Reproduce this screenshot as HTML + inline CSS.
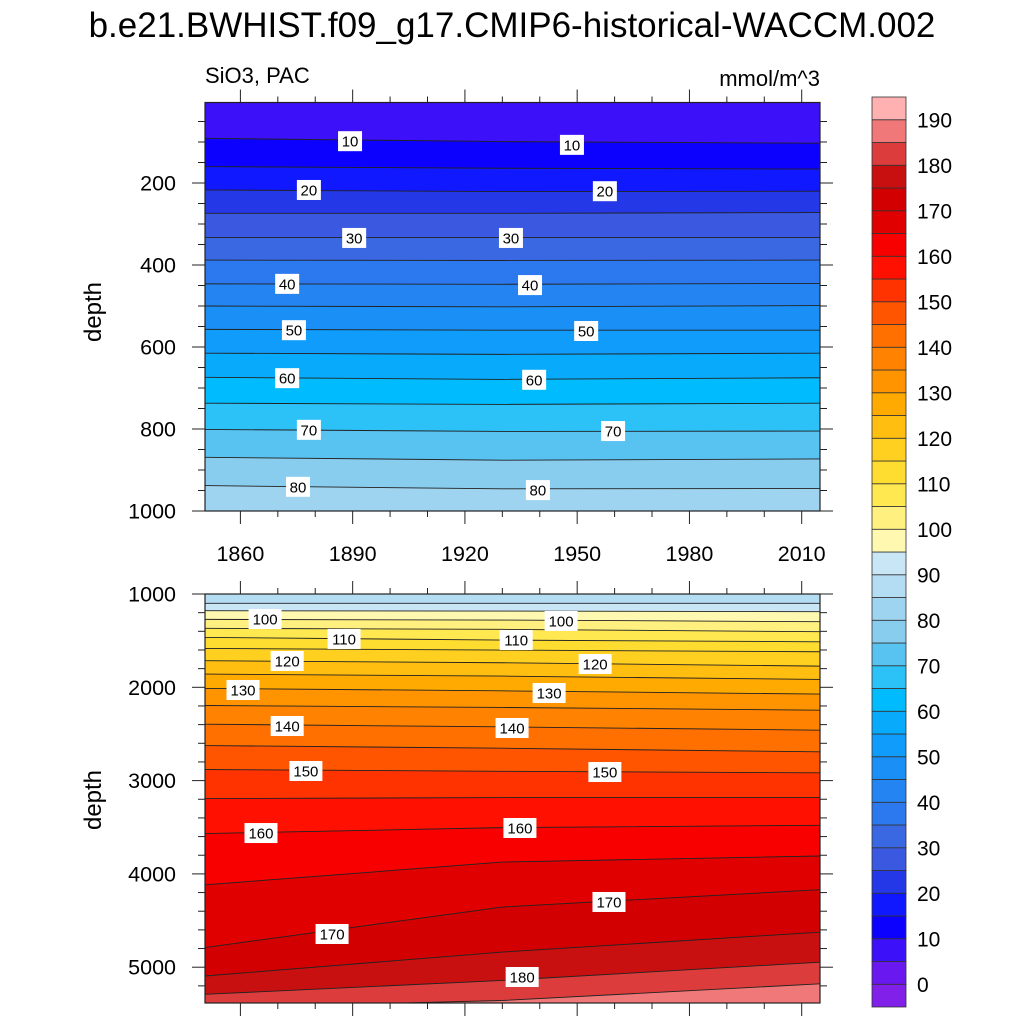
<!DOCTYPE html>
<html><head><meta charset="utf-8"><style>
html,body{margin:0;padding:0;background:#fff;width:1024px;height:1024px;overflow:hidden;}
svg{display:block;font-family:"Liberation Sans",sans-serif;}
</style></head><body>
<svg id="c" width="1024" height="1024" viewBox="0 0 1024 1024">
<text x="512" y="37" font-size="35" text-anchor="middle">b.e21.BWHIST.f09_g17.CMIP6-historical-WACCM.002</text>
<text x="205" y="83" font-size="22">SiO3, PAC</text>
<text x="820" y="86" font-size="22" text-anchor="end">mmol/m^3</text>
<text transform="translate(101,312) rotate(-90)" font-size="24" text-anchor="middle">depth</text>
<text transform="translate(101,800) rotate(-90)" font-size="24" text-anchor="middle">depth</text>
<g id="top"></g>
<g id="bot"></g>
<g id="cbar"></g>
</svg>
<script>
const years = [1850, 1930, 2015];
const topLevels = [10,15,20,25,30,35,40,45,50,55,60,65,70,75,80];
const topDepths = [
 [91,99,103],[160,164,166],[217,221,220],[274,274,272],[333,333,333],
 [388,389,388],[446,447,445],[500,502,499],[557,559,559],[615,618,615],
 [674,679,675],[737,740,737],[801,806,805],[869,876,873],[938,946,945]];
const botLevels = [90,95,100,105,110,115,120,125,130,135,140,145,150,155,160,165,170,175,180,185];
const botDepths = [
 [1100,1100,1100],[1179,1183,1190],[1272,1279,1297],[1368,1379,1404],[1465,1494,1512],
 [1583,1601,1619],[1715,1737,1773],[1858,1880,1916],[2012,2038,2073],[2195,2216,2245],
 [2395,2424,2460],[2624,2653,2692],[2881,2900,2917],[3193,3182,3182],[3568,3504,3479],
 [4119,3873,3808],[4792,4355,4169],[5096,4838,4624],[5292,5142,4946],[5600,5357,5178]];
const topLabelText = ["10","10","20","20","30","30","40","40","50","50","60","60","70","70","80","80"];
const topLabelYear = [1889.3,1948.6,1878.3,1957.4,1890.4,1932.3,1872.5,1937.4,1874.3,1952.4,1872.5,1938.5,1878.3,1959.6,1875.4,1939.5];
const topLabelDepth = [98,107,217,220,334,334,446,449,559,561,676,680,802,805,941,949];
const botLabelText = ["100","100","110","110","120","120","130","130","140","140","150","150","160","160","170","170","180"];
const botLabelYear = [1866.6,1945.7,1887.7,1933.7,1872.5,1954.8,1860.7,1942.5,1872.5,1932.6,1877.5,1957.4,1865.5,1934.7,1884.5,1958.5,1935.3];
const botLabelDepth = [1268,1289,1482,1493,1718,1750,2029,2061,2415,2436,2897,2908,3562,3508,4644,4301,5105];
const xTicks = [1860,1890,1920,1950,1980,2010];
const topYTicks = [200,400,600,800,1000];
const botYTicks = [1000,2000,3000,4000,5000];
const cbLabels = [0,10,20,30,40,50,60,70,80,90,100,110,120,130,140,150,160,170,180,190];
const colors = ["#8020e8","#6a18f0","#3c10f8","#0c00ff","#1018ff","#2438e8","#3a58e0","#3a68e2","#2c78ee","#2484f2",
 "#1a90f6","#109cfa","#08aafc","#00bcfe","#2cc2f8","#58c2f0","#88ccee","#9ed4f0","#b4dcf2","#c8e6f6",
 "#fff8b0","#fff080","#ffe850","#ffdc30","#ffd020","#ffbe10","#ffaa00","#ff9400","#ff8200","#ff7000",
 "#ff5400","#ff3300","#ff1000","#f80000","#e00000","#d20000","#c81010","#dc3c3c","#f07878","#ffb0b0"];

const NS="http://www.w3.org/2000/svg";
function mk(tag, attrs, parent){const e=document.createElementNS(NS,tag);for(const k in attrs)e.setAttribute(k,attrs[k]);parent.appendChild(e);return e;}
const X0=205,X1=820;
const xs = y => 240.4 + (y-1860)*3.742;
const yTop = d => 183 + (d-200)*0.41;
const yBot = d => 594 + (d-1000)*0.0933;

function panel(g, id, top, bottom, ys, levels, depths, firstColor, yTicks, minorStep, dMin, dMax, lTxt, lYr, lDp){
  const defs=mk('defs',{},g);
  const cp=mk('clipPath',{id:id+'clip'},defs);
  mk('rect',{x:X0,y:top,width:X1-X0,height:bottom-top},cp);
  const cg=mk('g',{'clip-path':'url(#'+id+'clip)'},g);
  const bg=mk('rect',{x:X0,y:top,width:X1-X0,height:bottom-top,fill:colors[firstColor]},cg);
  
  
  levels.forEach((L,i)=>{
    const pts=years.map((yr,j)=>xs(yr)+','+Math.min(ys(depths[i][j]),bottom+5));
    const p=mk('polygon',{points:pts.join(' ')+' '+xs(2015)+','+(bottom+5)+' '+xs(1850)+','+(bottom+5),fill:colors[L/5+1]},cg);
    
    
  });
  levels.forEach((L,i)=>{
    const pts=years.map((yr,j)=>xs(yr)+','+Math.min(ys(depths[i][j]),bottom+5));
    const l=mk('polyline',{points:pts.join(' '),fill:'none',stroke:'#222','stroke-width':0.9},cg);
    
    
  });
  lTxt.forEach((t,i)=>{
    const cx=xs(lYr[i]), cy=ys(lDp[i]);
    const w=t.length*9+6;
    const r=mk('rect',{x:cx-w/2,y:cy-10,width:w,height:20,fill:'#fff'},g);
    
    
    const tx=mk('text',{x:cx,y:cy+5.5,'font-size':15,'text-anchor':'middle'},g);
    tx.textContent=t;
    
    
  });
  mk('rect',{x:X0,y:top,width:X1-X0,height:bottom-top,fill:'none',stroke:'#222','stroke-width':1.2},g);
  for(let yr=1860; yr<=2010; yr+=10){
    const maj = (yr-1860)%30===0, len = maj?13:6, x=xs(yr);
    mk('line',{x1:x,x2:x,y1:top,y2:top-len,stroke:'#222'},g);
    mk('line',{x1:x,x2:x,y1:bottom,y2:bottom+len,stroke:'#222'},g);
  }
  for(let d=dMin; d<=dMax; d+=minorStep){
    const y=ys(d); if(y<top-0.5||y>bottom+0.5) continue;
    const maj = yTicks.includes(d), len=maj?13:7;
    mk('line',{x1:X0,x2:X0-len,y1:y,y2:y,stroke:'#222'},g);
    mk('line',{x1:X1,x2:X1+len,y1:y,y2:y,stroke:'#222'},g);
  }
  yTicks.forEach(d=>{
    const t=mk('text',{x:176,y:ys(d)+7.5,'font-size':21.5,'text-anchor':'end'},g);
    t.textContent=d;
    
    
  });
}
panel(document.getElementById('top'),'t',102.5,511,yTop,topLevels,topDepths,2,topYTicks,50,0,1000,topLabelText,topLabelYear,topLabelDepth);
panel(document.getElementById('bot'),'b',594,1003,yBot,botLevels,botDepths,18,botYTicks,200,1000,5400,botLabelText,botLabelYear,botLabelDepth);

const xg=document.getElementById('c');
xTicks.forEach(yr=>{
  const t=mk('text',{x:xs(yr),y:561,'font-size':21.5,'text-anchor':'middle'},xg);
  t.textContent=yr;
  
  
});

const cb=document.getElementById('cbar');
const bh=22.75, cbBottom=1007;
colors.forEach((c,i)=>{
  const r=mk('rect',{x:872,y:cbBottom-(i+1)*bh,width:34,height:bh,fill:c,stroke:'#333','stroke-width':0.8},cb);
  
  
});
cbLabels.forEach(L=>{
  const t=mk('text',{x:917,y:cbBottom-(L/5+1)*bh+7.5,'font-size':21},cb);
  t.textContent=L;
  
  
});
</script>
</body></html>
